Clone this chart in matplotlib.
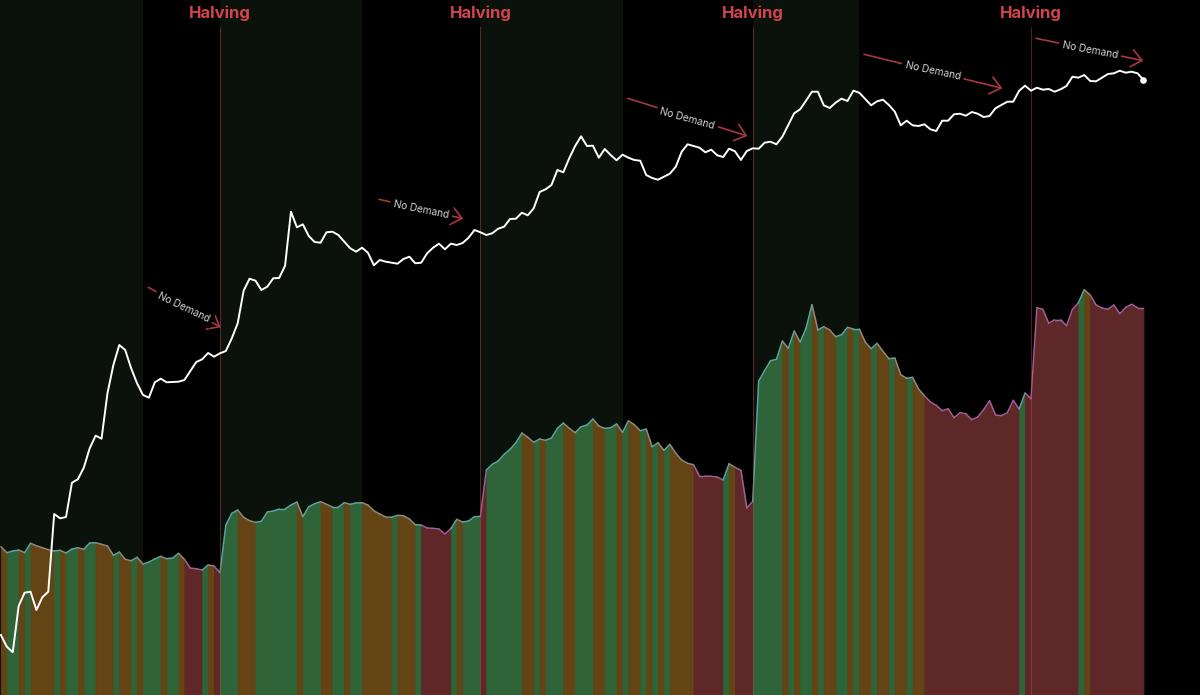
import matplotlib
matplotlib.use("Agg")
import matplotlib.pyplot as plt
from matplotlib.collections import LineCollection
import numpy as np

price_level = [
635,646.7,652.3,606,592.7,591.7,610,597.3,591.7,514,518.3,517,482.7,479.3,467.7,448.3,435.7,438.7,393.3,365,
345,350,368.3,383.3,395,397.7,382.3,378.7,382.3,382,381.7,380,371,362,359.3,353,356.7,353.3,351,338.3,
323.3,290.7,278.7,280.7,290,286.7,278.3,278,265.7,211.7,227.3,224.3,236,242,242.7,232.3,231.7,235,241.7,248.3,
251.7,247.7,252.7,265.3,260,261.7,262.7,263.7,259,256.7,263.3,262.7,253.3,247.7,243.7,249.3,243.7,245,243,237.7,
230,232.3,235,233.3,228.7,226.7,219,218.7,212.7,215.3,208.3,192,189.3,185,170,172.3,158.3,146,136.3,146,
145.7,157.7,149,155,160.3,154.7,157.7,160,160.7,175,178,179.7,176.7,173.7,166.7,151.7,144.3,146,147.7,152.3,
149.7,155.3,157,148.7,151.3,160,151,148.3,148.7,142.7,141.7,144.3,136.7,125,113.3,109.3,100.7,91.7,91.7,105.3,
108,102.7,98.7,101,90.7,92.7,99,105.3,101.3,99.7,105,111.7,125.3,120.7,125.3,126,124.3,129.3,131,120.7,
120.7,114.3,113.7,115.7,112,113.7,117,116,108.3,105,101.7,101.7,90.7,85.7,90.7,87.7,89.7,89,91.7,89.3,
86,76.7,77.7,75,81,81.3,77.7,74,73.3,70.7,72.7,71.7,73.3,80]

demand_level = [
546.7,552.7,551,550,552.7,543.3,545.7,547.7,549.7,551,550.3,553,549,547.7,549.3,543,542.7,544.3,546,555.3,
552,559.3,560.7,557.3,564,562,559,556.3,558.7,558,553.3,559.3,568,568.7,570,565,566,572.7,525,513.3,
510,517.3,520.7,522.3,521.3,512,511,509,509,505,502,516.7,506.7,503.7,501.7,504.3,507,507,502.7,504.3,
503,502.7,505,510.7,514,517,517.3,515.3,515.7,519,524.7,525,528,528.3,529,534,528.7,519.3,522,521,
516.7,516.3,470,464.3,461,454.3,449.3,442.7,433,437.3,442.3,439,440.3,438,428.3,423,428.3,432.7,426.7,425,
419,426,428.3,427.7,424,432.3,420.7,424.7,430.7,429,446.7,442.7,450.3,444.3,453.3,460,463.3,464.7,476,476,
476.3,477,480,463.7,467.3,470.3,508,501.3,381,370.7,360.7,359.3,341,348.3,331,342,328.3,304.7,330,326.7,
330,336.7,334.7,327.3,329,329,342,348.7,343.3,351.3,358.7,358,374.7,378.3,377.3,389,395.7,402,405.3,410.7,
408.7,417.7,412.7,413.7,419.7,417,409.7,400.7,415,415.7,412.7,400.3,409,393,398.7,307.7,309.3,323.3,319.7,319.7,
325.7,309.3,302.7,289.7,295,305,308,309.3,305,313.7,307.3,304.3,307.7,307.7]

regime_runs = [
("O",1),("G",2),("O",1),("G",1),("O",4),("G",1),("O",1),("G",2),("O",1),("G",2),("O",3),("G",1),("O",2),("G",1),("O",1),
("G",3),("O",1),("G",2),("O",1),("R",3),("G",1),("O",1),("R",1),("G",3),("O",3),("G",7),("O",1),("G",3),("O",2),("G",2),
("O",1),("G",2),("O",5),("G",1),("O",3),("G",1),("R",5),("G",1),("O",1),("G",3),("R",1),("G",6),("O",2),("G",1),("O",1),
("G",3),("O",2),("G",3),("O",2),("G",2),("O",1),("G",1),("O",2),("G",1),("O",1),("G",1),("O",1),("G",1),("O",4),("R",5),
("G",1),("O",1),("R",3),("G",5),("O",1),("G",1),("O",1),("G",2),("O",1),("G",1),("O",2),("G",2),("O",1),("G",1),("O",2),
("G",1),("O",2),("G",1),("O",2),("G",1),("O",2),("R",16),("G",1),("R",9),("G",1),("O",1),("R",9)]

halving_months = [37, 81, 127, 174]
shade_spans = [(-1, 24), (37, 61), (81, 105), (127, 145)]
halving_label = "Halving"
demand_label = "No Demand"

# start x, start y, end x, end y, label x, label y, label angle
arrows = [
    (148.3, 287.3, 220.7, 327.3, 184.0, 307.5, -25.5),
    (379.0, 199.3, 463.3, 218.7, 421.3, 209.3, -11.5),
    (627.7, 98.3, 747.3, 136.0, 687.3, 118.7, -15.5),
    (864.0, 54.3, 1002.3, 88.3, 932.7, 71.0, -12.0),
    (1036.0, 38.3, 1143.3, 60.7, 1090.0, 50.0, -10.5),
]

STEP = 5.92
X0 = 0.9
W, H = 1200, 695
fill_colors = {"G": "#2f6338", "O": "#644315", "R": "#5e2728"}
edge_colors = {"G": "#5aa6a6", "O": "#8e8a80", "R": "#a0609a"}
RED = "#d2444b"
ARROW = "#a8383f"

plt.rcParams["font.family"] = ["Inter", "Liberation Sans", "DejaVu Sans"]

def to_month(px):
    return (px - X0) / STEP

months = np.arange(len(price_level))
price = np.array(price_level)
demand = np.array(demand_level)

fig = plt.figure(figsize=(W / 100, H / 100), dpi=100, facecolor="black")
ax = fig.add_axes([0, 0, 1, 1], facecolor="black")
ax.set_xlim(to_month(0), to_month(W))
ax.set_ylim(H, 0)
ax.axis("off")

for a, b in shade_spans:
    ax.axvspan(a, b, color="#0b120c", lw=0, zorder=1)

start = 0
band_colors = []
for regime, count in regime_runs:
    end = start + count
    ax.fill_between(months[start:end + 1], demand[start:end + 1], H,
                    facecolor=fill_colors[regime], edgecolor=fill_colors[regime],
                    lw=0.6, antialiased=False, zorder=2)
    band_colors += [edge_colors[regime]] * count
    start = end

segments = np.stack([np.column_stack([months[:-1], demand[:-1]]),
                     np.column_stack([months[1:], demand[1:]])], axis=1)
ax.add_collection(LineCollection(segments, colors=band_colors, linewidths=1.05,
                                 capstyle="round", zorder=3))

for m in halving_months:
    ax.plot([m, m], [27, H], color=RED, alpha=0.42, lw=0.75, zorder=4)
    ax.text(m, 13, halving_label, color=RED, fontsize=12.0, fontweight="bold",
            ha="center", va="center", zorder=8)

ax.plot(months, price, color="white", lw=1.4, solid_joinstyle="round", zorder=5)
ax.plot(months[-1], price[-1], "o", color="white", ms=4.8, mew=0, zorder=6)

for x1, y1, x2, y2, tx, ty, angle in arrows:
    ax.annotate("", xy=(to_month(x2), y2), xytext=(to_month(x1), y1),
                arrowprops=dict(arrowstyle="->,head_length=0.75,head_width=0.62",
                                color=ARROW, lw=1.2, shrinkA=0, shrinkB=0),
                zorder=6)
    ax.text(to_month(tx), ty, demand_label, color="#d4d4d4", fontsize=7.3,
            rotation=angle, rotation_mode="anchor", ha="center", va="center",
            zorder=7, bbox=dict(facecolor="black", edgecolor="none", pad=2.5))

fig.savefig("out.png", dpi=100, facecolor="black")
